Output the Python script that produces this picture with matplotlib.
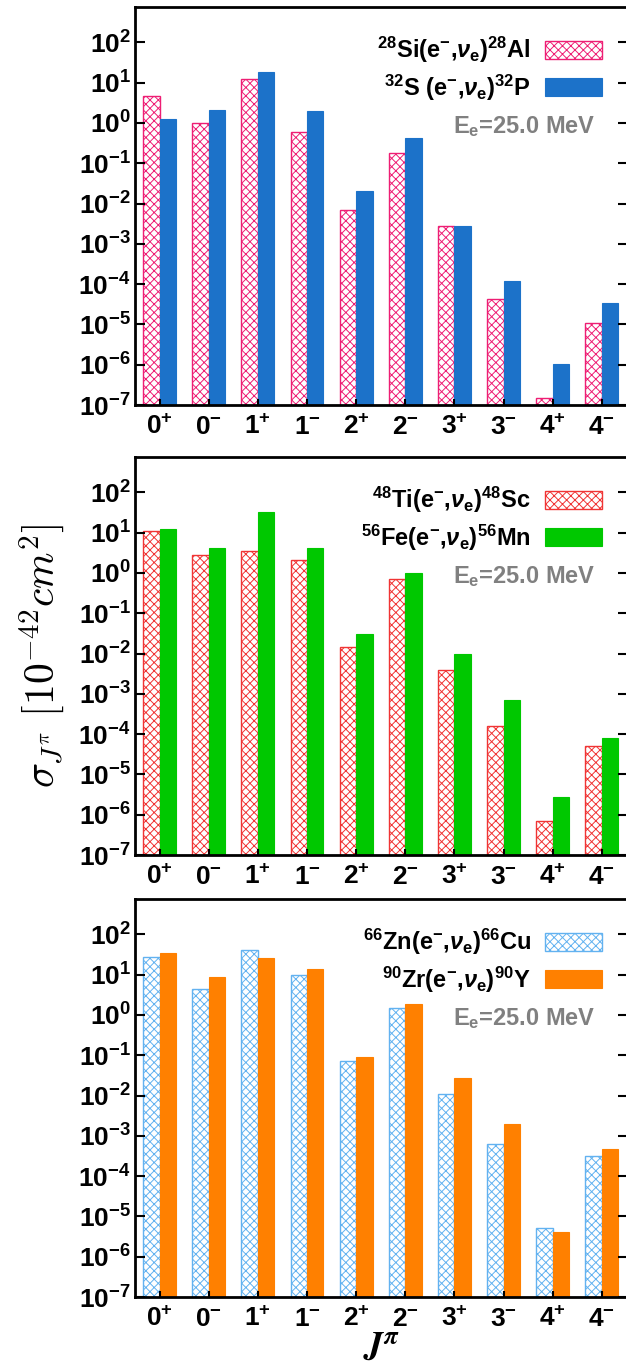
import numpy as np
import matplotlib
matplotlib.use("Agg")
import matplotlib.pyplot as plt

# spin-parity multipoles on the x axis
states = ["0$^{+}$", "0$^{-}$", "1$^{+}$", "1$^{-}$", "2$^{+}$",
          "2$^{-}$", "3$^{+}$", "3$^{-}$", "4$^{+}$", "4$^{-}$"]

# partial cross sections, units 1e-42 cm^2
si28 = [4.8, 1.02, 12.3, 0.59, 0.0070, 0.18, 0.00285, 4.2e-5, 1.5e-7, 1.07e-5]
s32 = [1.26, 2.14, 18.7, 1.95, 0.021, 0.43, 0.00285, 1.23e-4, 1.02e-6, 3.4e-5]
ti48 = [11.2, 2.8, 3.58, 2.14, 0.0148, 0.71, 0.0039, 1.64e-4, 6.8e-7, 5.2e-5]
fe56 = [12.1, 4.1, 31.9, 4.1, 0.031, 1.0, 0.0098, 7.2e-4, 2.7e-6, 7.9e-5]
zn66 = [27.9, 4.5, 40.0, 10.0, 0.071, 1.49, 0.011, 6.4e-4, 5.3e-6, 3.1e-4]
zr90 = [35.0, 8.75, 26.4, 13.6, 0.091, 1.91, 0.028, 2.0e-3, 4.0e-6, 4.7e-4]

labels = [
    (r"$^{28}$Si(e$^{-}$,$\nu_{\mathrm{e}}$)$^{28}$Al", r"$^{32}$S (e$^{-}$,$\nu_{\mathrm{e}}$)$^{32}$P"),
    (r"$^{48}$Ti(e$^{-}$,$\nu_{\mathrm{e}}$)$^{48}$Sc", r"$^{56}$Fe(e$^{-}$,$\nu_{\mathrm{e}}$)$^{56}$Mn"),
    (r"$^{66}$Zn(e$^{-}$,$\nu_{\mathrm{e}}$)$^{66}$Cu", r"$^{90}$Zr(e$^{-}$,$\nu_{\mathrm{e}}$)$^{90}$Y"),
]
data = [(si28, s32), (ti48, fe56), (zn66, zr90)]
colors = [("#ee1e74", "#1c72c9"), ("#f03434", "#00c800"), ("#62b2f0", "#ff8000")]

plt.rcParams["font.family"] = ["Liberation Sans", "DejaVu Sans"]
plt.rcParams["font.weight"] = "bold"
plt.rcParams["mathtext.fontset"] = "custom"
plt.rcParams["mathtext.rm"] = "Liberation Sans:bold"
plt.rcParams["mathtext.it"] = "Liberation Sans:italic:bold"
plt.rcParams["mathtext.bf"] = "Liberation Sans:bold"
plt.rcParams["mathtext.sf"] = "Liberation Sans:bold"
plt.rcParams["hatch.linewidth"] = 0.7

fig = plt.figure(figsize=(6.26, 13.67), dpi=100)
bottoms = [0.7037, 0.3745, 0.0512]
x = np.arange(len(states))
w = 0.335

axes = []
for i in range(3):
    ax = fig.add_axes([0.2157, bottoms[i], 0.788, 0.2911])
    axes.append(ax)
    v1, v2 = data[i]
    c1, c2 = colors[i]
    l1, l2 = labels[i]
    ax.bar(x - w / 2, v1, w, bottom=1e-9, facecolor="white", edgecolor=c1,
           hatch="xxxx", linewidth=1.0, label=l1)
    ax.bar(x + w / 2, v2, w, bottom=1e-9, color=c2, edgecolor=c2,
           linewidth=0.8, label=l2)
    ax.set_yscale("log")
    ax.set_ylim(1e-7, 750)
    ax.set_xlim(-0.5, 9.54)
    ax.set_yticks([10.0 ** k for k in range(-7, 3)])
    ax.set_xticks(x)
    ax.set_xticklabels(states, fontsize=19)
    ax.tick_params(axis="y", which="major", direction="in", length=7, width=1.5,
                   right=True, labelsize=19, pad=3)
    ax.tick_params(axis="y", which="minor", direction="in", length=3, width=1.0,
                   right=False)
    ax.tick_params(axis="x", direction="in", length=4, width=1.5, pad=7)
    for s in ax.spines.values():
        s.set_linewidth(2)
    ax.legend(loc="upper right", bbox_to_anchor=(0.975, 0.965), frameon=False,
              markerfirst=False, fontsize=17, handlelength=2.4, handleheight=0.8,
              handletextpad=0.6, labelspacing=0.3, borderaxespad=0.2)
    ax.text(0.933, 0.70, r"E$_{\mathrm{e}}$=25.0 MeV", transform=ax.transAxes,
            ha="right", va="center", color="#808080", fontsize=17,
            fontweight="bold")

fig.text(0.067, 0.52, r"$\sigma_{J^{\pi}}\ [10^{-42}cm^{2}]$", rotation=90,
         ha="center", va="center", fontsize=30, math_fontfamily="cm")
axes[2].set_xlabel(r"$\mathbfit{J}^{\pi}$", fontsize=26, math_fontfamily="stix",
                   labelpad=0)

fig.savefig("out.png", dpi=100)
